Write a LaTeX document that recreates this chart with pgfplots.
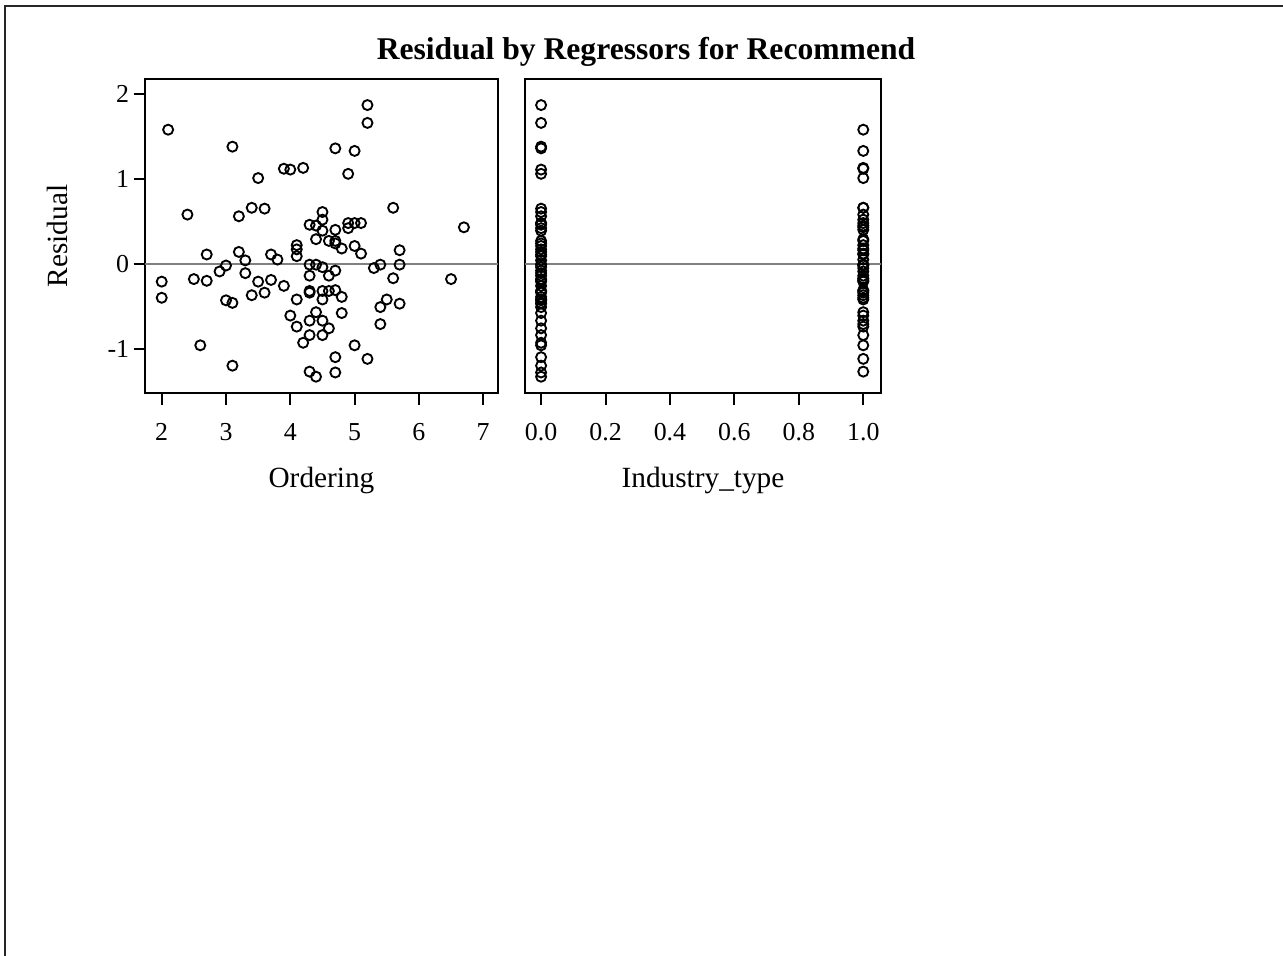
\documentclass[border=0pt]{standalone}
\usepackage{pgfplots}
\pgfplotsset{compat=1.18}
\usepackage{pgfplotstable}
\usepackage{fontspec}
\setmainfont{Liberation Serif}

\definecolor{refgray}{RGB}{128,128,128}

% Ordering score, industry type (0/1) and residual of the Recommend model
\pgfplotstableread{
ord ind res
2.1 1 1.58
3.1 0 1.38
4.7 0 1.36
5.2 0 1.87
5.2 0 1.66
5.0 1 1.33
3.9 1 1.12
4.2 1 1.13
4.0 0 1.11
4.9 0 1.06
3.5 1 1.01
3.4 1 0.66
5.6 1 0.66
3.6 0 0.65
4.5 0 0.61
2.4 1 0.58
3.2 0 0.56
4.5 1 0.52
4.3 0 0.46
4.4 1 0.45
4.9 0 0.48
5.0 1 0.48
5.1 0 0.48
6.7 1 0.43
4.9 0 0.42
4.7 1 0.40
4.5 0 0.39
4.4 1 0.29
4.6 0 0.27
4.7 1 0.27
4.7 0 0.24
4.1 1 0.22
5.0 0 0.21
4.8 1 0.18
4.1 0 0.17
5.7 1 0.16
3.2 0 0.14
5.1 1 0.12
3.7 0 0.11
2.7 1 0.11
4.1 0 0.09
3.8 1 0.05
3.3 0 0.04
4.3 1 -0.01
4.4 0 -0.01
5.4 1 -0.01
5.7 0 -0.01
3.0 1 -0.02
4.5 0 -0.04
5.3 1 -0.05
4.7 0 -0.08
2.9 1 -0.09
3.3 0 -0.11
4.3 1 -0.14
4.6 0 -0.14
5.6 1 -0.17
2.5 0 -0.18
6.5 1 -0.18
3.7 0 -0.19
2.7 1 -0.20
2.0 0 -0.21
3.5 1 -0.21
3.9 0 -0.26
4.7 1 -0.31
4.3 0 -0.32
4.5 1 -0.32
4.6 0 -0.32
4.3 1 -0.34
3.6 0 -0.34
3.4 1 -0.37
4.8 0 -0.39
2.0 1 -0.40
4.1 0 -0.42
5.5 1 -0.42
4.5 0 -0.42
3.0 0 -0.43
3.1 0 -0.46
5.7 0 -0.47
5.4 0 -0.51
4.4 1 -0.57
4.8 0 -0.58
4.0 1 -0.61
4.3 1 -0.67
4.5 0 -0.67
5.4 1 -0.71
4.1 1 -0.74
4.6 0 -0.76
4.3 1 -0.84
4.5 0 -0.84
4.2 0 -0.93
2.6 1 -0.96
5.0 0 -0.96
4.7 0 -1.10
5.2 1 -1.12
3.1 0 -1.20
4.3 1 -1.27
4.7 0 -1.28
4.4 0 -1.33
}\resid

\pgfplotsset{
  panel/.style={
    scale only axis,
    height=109.27pt,
    ymin=-1.522, ymax=2.177,
    axis line style={line width=0.7pt},
    tick align=outside,
    major tick length=4pt,
    tick style={black, line width=0.7pt},
    xtick pos=bottom, ytick pos=left,
    minor tick num=0,
    tick label style={font=\fontsize{9}{11}\selectfont},
    label style={font=\fontsize{10.2}{12}\selectfont},
    xticklabel style={yshift=-3pt},
    yticklabel style={xshift=2pt},
    xlabel style={at={(axis description cs:0.5,-0.28)}, anchor=center},
  },
  resmark/.style={only marks, mark=o, mark size=1.75pt,
    mark options={line width=0.65pt, draw=black}},
  zeroline/.style={refgray, line width=0.6pt},
}

\begin{document}
\begin{tikzpicture}[x=0.348pt, y=0.348pt]
\path[use as bounding box] (0,0) rectangle (1283,956);
\draw[line width=0.5pt, black!85] (5,0) -- (5,950) -- (1283,950);

\node[font=\bfseries\fontsize{11}{13}\selectfont] at (646,904)
  {Residual by Regressors for Recommend};

\begin{axis}[panel,
  at={(50.46pt,195.92pt)}, anchor=south west,
  width=122.84pt,
  xmin=1.74, xmax=7.23,
  xtick={2,3,4,5,6,7}, xticklabels={2,3,4,5,6,7},
  ytick={-1,0,1,2}, yticklabels={-1,0,1,2},
  xlabel={Ordering}, ylabel={Residual},
  ylabel style={at={(axis description cs:-0.249,0.5)}, anchor=center},
]
\addplot[zeroline] coordinates {(1.74,0) (7.23,0)};
\addplot[resmark] table[x=ord, y=res] {\resid};
\end{axis}

\begin{axis}[panel,
  at={(182.7pt,195.92pt)}, anchor=south west,
  width=123.89pt,
  xmin=-0.05, xmax=1.055,
  xtick={0,0.2,0.4,0.6,0.8,1}, xticklabels={0.0,0.2,0.4,0.6,0.8,1.0},
  ytick=\empty,
  xlabel={Industry\_type},
]
\addplot[zeroline] coordinates {(-0.05,0) (1.055,0)};
\addplot[resmark] table[x=ind, y=res] {\resid};
\end{axis}
\end{tikzpicture}
\end{document}
